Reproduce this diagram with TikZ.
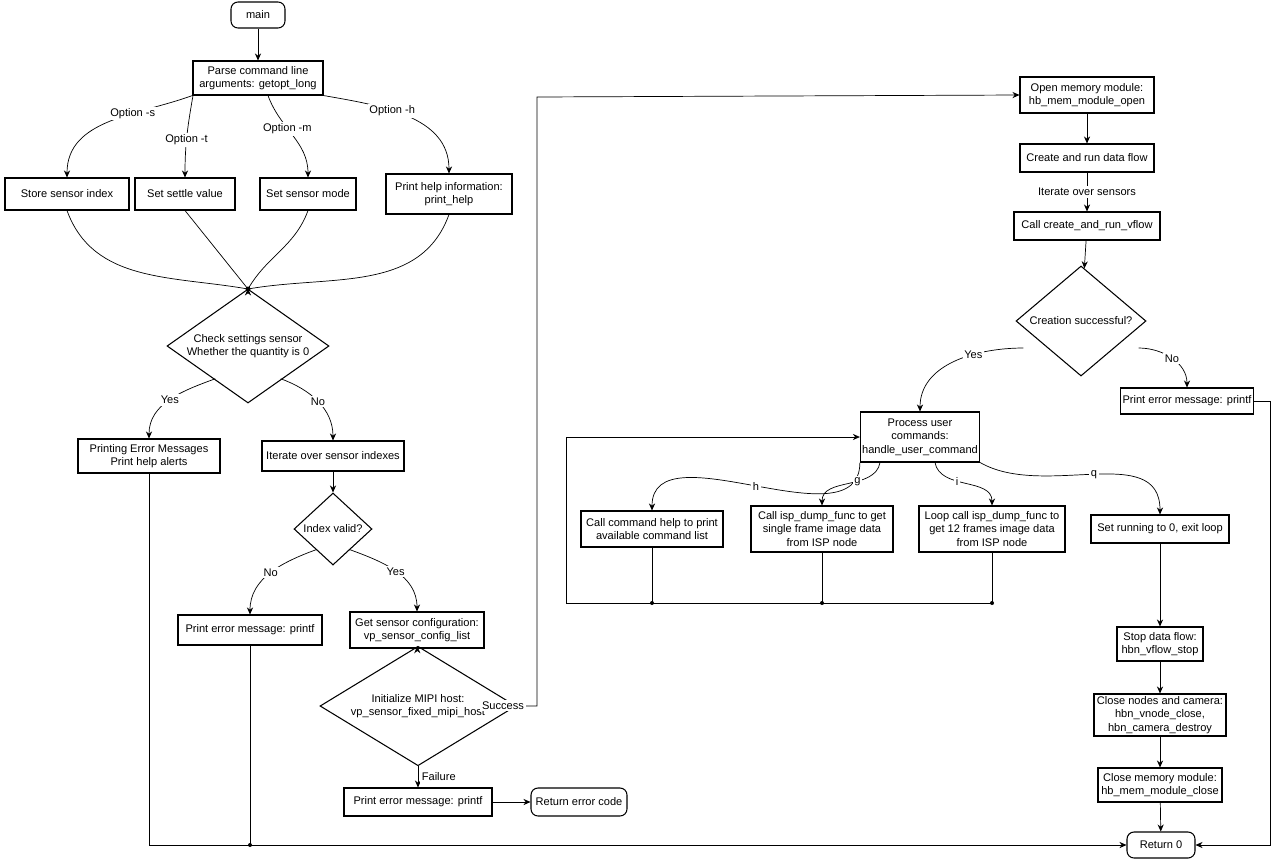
\documentclass[tikz,border=0pt]{standalone}
\usepackage{fontspec}
\setmainfont{Liberation Sans}
\usetikzlibrary{shapes.geometric,arrows.meta}
\begin{document}
\begin{tikzpicture}[x=0.02cm,y=-0.02cm,
	font=\fontsize{6.3}{7.6}\selectfont,
	w/.style={minimum width=#1*0.02cm},
	h/.style={minimum height=#1*0.02cm},
	box/.style={draw,line width=0.6pt,align=center,inner sep=1pt},
	term/.style={box,rounded corners=4pt},
	cond/.style={draw,line width=0.6pt,diamond,align=center,inner sep=0pt,aspect=1.4},
	arr/.style={-{Stealth[length=4pt,width=3.5pt]},line width=0.4pt},
	lin/.style={line width=0.4pt},
	lab/.style={fill=white,inner sep=1pt}]
		\useasboundingbox (0,0) rectangle (1280,859);
		
		%left column
		\node[term,w=54,h=26] (main) at (258,15) {main};
		\node[box,w=130,h=34] (parse) at (258,78) {Parse command line\\arguments: getopt\_long};
		\node[box,w=124,h=32] (store) at (67,194) {Store sensor index};
		\node[box,w=100,h=32] (settle) at (185,194) {Set settle value};
		\node[box,w=96,h=32] (smode) at (308,194) {Set sensor mode};
		\node[box,w=126,h=40] (phelp) at (449,194) {Print help information:\\print\_help};
		\coordinate (merge) at (248,289);
		\node[cond,w=162,h=114] (check) at (248,346) {Check settings sensor\\Whether the quantity is 0};
		\node[box,w=142,h=34] (perr) at (149,456) {Printing Error Messages\\Print help alerts};
		\node[box,w=142,h=30] (iter) at (333,456) {Iterate over sensor indexes};
		\node[cond,w=78,h=72] (valid) at (333,529) {Index valid?};
		\node[box,w=144,h=30] (err1) at (250,630) {Print error message: printf};
		\node[box,w=134,h=36] (getcfg) at (417,630) {Get sensor configuration:\\vp\_sensor\_config\_list};
		\node[cond,w=196,h=80] (mipi) at (418,706) {Initialize MIPI host:\\vp\_sensor\_fixed\_mipi\_host};
		\node[box,w=148,h=28] (err2) at (418,802) {Print error message: printf};
		\node[term,w=96,h=28] (reterr) at (579,802) {Return error code};
		
		%right column
		\node[box,w=134,h=36] (open) at (1087,95) {Open memory module:\\hb\_mem\_module\_open};
		\node[box,w=134,h=28] (flow) at (1087,158) {Create and run data flow};
		\node[box,w=146,h=28] (vflow) at (1087,226) {Call create\_and\_run\_vflow};
		\node[cond,w=130,h=110] (ok) at (1081,321) {Creation successful?};
		\node[box,w=128,h=26] (err3) at (1187,401) {Print error message: printf};
		\node[box,w=96,h=50] (proc) at (920,437) {Process user\\commands:\\handle\_user\_command};
		\node[box,w=142,h=36] (chelp) at (652,529) {Call command help to print\\available command list};
		\node[box,w=142,h=46] (single) at (822,529) {Call isp\_dump\_func to get\\single frame image data\\from ISP node};
		\node[box,w=146,h=46] (loop) at (992,529) {Loop call isp\_dump\_func to\\get 12 frames image data\\from ISP node};
		\node[box,w=138,h=28] (run) at (1160,529) {Set running to 0, exit loop};
		\node[box,w=86,h=34] (stop) at (1160,644) {Stop data flow:\\hbn\_vflow\_stop};
		\node[box,w=132,h=42] (close) at (1160,715) {Close nodes and camera:\\hbn\_vnode\_close,\\hbn\_camera\_destroy};
		\node[box,w=124,h=34] (cmem) at (1160,785) {Close memory module:\\hb\_mem\_module\_close};
		\node[term,w=68,h=26] (ret) at (1161,845) {Return 0};
		
		%options
		\draw[arr] (main) -- (parse);
		\draw[arr] (parse.south west) to[out=200,in=90] node[lab,pos=0.35] {Option -s} (store.north);
		\draw[arr] (parse.south) ++(-65,0) coordinate (pt) (pt) to[out=260,in=90] node[lab,pos=0.55] {Option -t} (settle.north);
		\draw[arr] (parse.south) ++(10,0) coordinate (pm) (pm) to[out=290,in=90] node[lab,pos=0.4] {Option -m} (smode.north);
		\draw[arr] (parse.south east) to[out=-10,in=90] node[lab,pos=0.4] {Option -h} (phelp.north);
		\draw[lin] (store.south) to[out=-70,in=170] (merge);
		\draw[lin] (settle.south) -- (merge);
		\draw[lin] (smode.south) to[out=-110,in=60] (merge);
		\draw[lin] (phelp.south) to[out=-110,in=10] (merge);
		\fill (merge) circle (2.5);
		\draw[arr] (merge) -- (check.north);
		
		%checks
		\draw[arr] (check.south west) ++(8,4) coordinate (cy) (cy) to[out=200,in=90] node[lab] {Yes} (perr.north);
		\draw[arr] (check.south east) ++(-8,4) coordinate (cn) (cn) to[out=-20,in=90] node[lab] {No} (iter.north);
		\draw[arr] (iter) -- (valid);
		\draw[arr] (valid.south west) ++(4,2) coordinate (vy) (vy) to[out=200,in=90] node[lab] {No} (err1.north);
		\draw[arr] (valid.south east) ++(-4,2) coordinate (vn) (vn) to[out=-20,in=90] node[lab] {Yes} (getcfg.north);
		\draw[arr] (getcfg) -- (mipi);
		\draw[arr] (mipi) -- node[lab,right,xshift=1] {Failure} (err2);
		\draw[arr] (err2) -- (reterr);
		\draw[arr] (mipi.east) -| (537,97) node[lab,pos=0.06,above left,xshift=4,yshift=-3] {Success} -- (open.west);
		
		%to return 0
		\coordinate (j1) at (250,845);
		\draw[arr] (perr.south) |- (ret.west);
		\draw[lin] (err1.south) -- (j1);
		\fill (j1) circle (2);
		
		%right flow
		\draw[arr] (open) -- (flow);
		\draw[arr] (flow) -- node[lab] {Iterate over sensors} (vflow);
		\draw[arr] (vflow) -- (ok);
		\draw[arr] (ok.west) ++(8,27) coordinate (oy) (oy) to[out=180,in=90] node[lab,pos=0.35] {Yes} (proc.north);
		\draw[arr] (ok.east) ++(-8,27) coordinate (on) (on) to[out=0,in=90] node[lab,pos=0.5] {No} (err3.north);
		\draw[arr] (err3.east) -- ++(17,0) |- (ret.east);
		
		%commands
		\draw[arr] (proc.south west) to[out=-90,in=90] node[lab] {h} (chelp.north);
		\draw[arr] (proc.south) ++(-40,0) coordinate (pg) (pg) to[out=-100,in=90] node[lab,pos=0.4] {g} (single.north);
		\draw[arr] (proc.south) ++(15,0) coordinate (pi) (pi) to[out=-80,in=90] node[lab,pos=0.4] {i} (loop.north);
		\draw[arr] (proc.south east) to[out=-30,in=90] node[lab,pos=0.5] {q} (run.north);
		\coordinate (b1) at (652,603);
		\coordinate (b2) at (822,603);
		\coordinate (b3) at (992,603);
		\draw[lin] (chelp.south) -- (b1);
		\draw[lin] (single.south) -- (b2);
		\draw[lin] (loop.south) -- (b3);
		\draw[arr] (b3) -- (566,603) |- (proc.west);
		\foreach \p in {b1,b2,b3}
		\fill (\p) circle (2);
		\draw[arr] (run) -- (stop);
		\draw[arr] (stop) -- (close);
		\draw[arr] (close) -- (cmem);
		\draw[arr] (cmem) -- (ret);
	
	\end{tikzpicture}
\end{document}
